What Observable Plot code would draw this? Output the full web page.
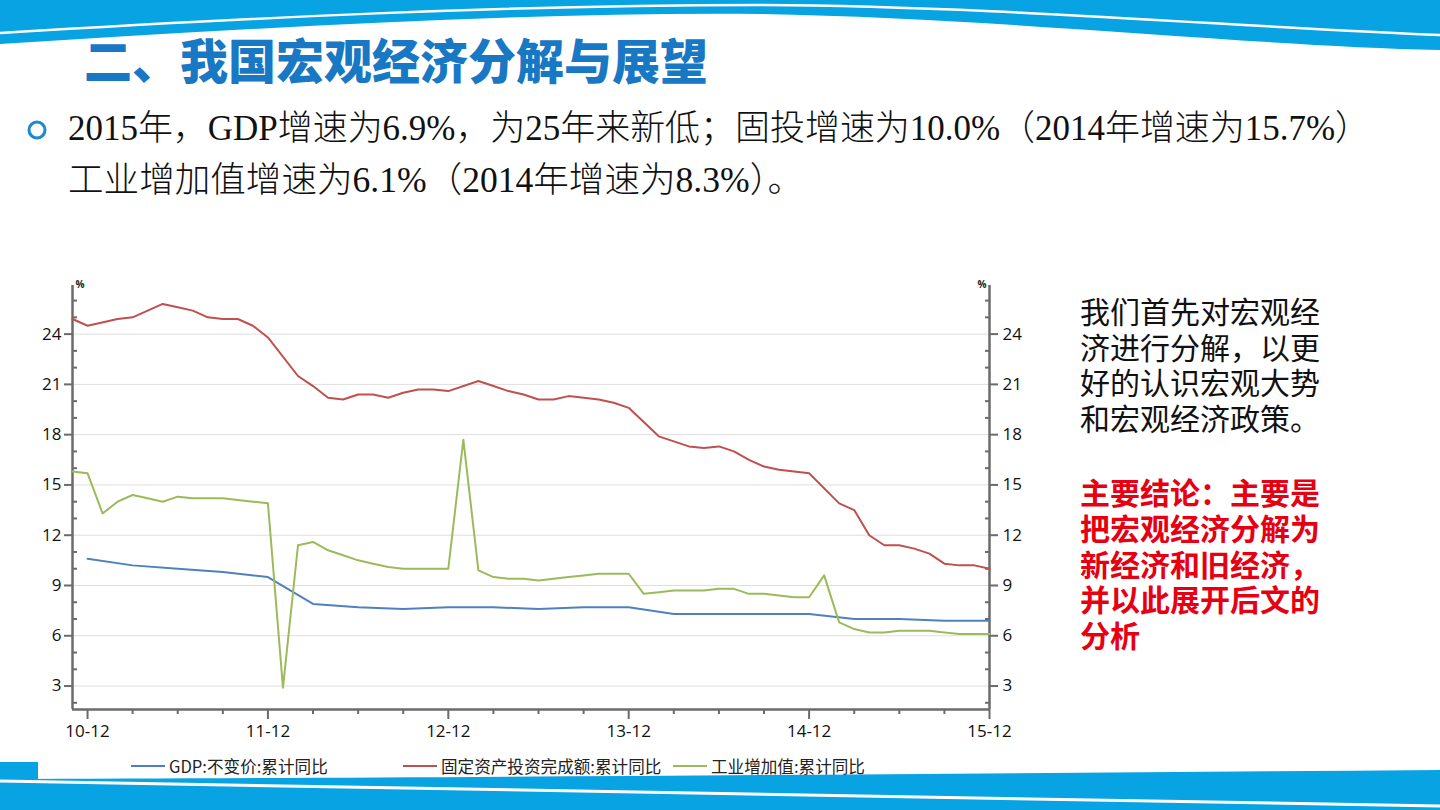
<!DOCTYPE html>
<html><head><meta charset="utf-8">
<script src="https://cdn.jsdelivr.net/npm/d3@7"></script>
<script src="https://cdn.jsdelivr.net/npm/@observablehq/plot@0.6"></script>
<style>
html,body{margin:0;padding:0;background:#fff;}
#slide{position:relative;width:1440px;height:810px;overflow:hidden;background:#fff;font-family:"Noto Sans CJK SC",sans-serif;}
.abs{position:absolute;}
#title{left:84px;top:26px;font-size:48px;font-weight:900;color:#1878C4;line-height:64px;white-space:nowrap;}
#note{left:1080px;top:293px;width:250px;font-size:30px;line-height:35.6px;color:#111;}
#concl{left:1080px;top:474px;width:250px;font-size:30px;line-height:35.8px;color:#E60012;font-weight:700;}
#chart{left:20px;top:270px;}
.leg{position:absolute;top:756px;height:20px;display:flex;align-items:center;font-size:16.6px;color:#222;white-space:nowrap;font-family:"Noto Sans CJK SC",sans-serif;}
.sw{display:inline-block;width:34px;height:2px;margin-right:4px;}
</style></head>
<body><div id="slide">
<svg class="abs" style="left:0;top:0" width="1440" height="100">
  <path d="M0,0 H1440 V50 C1250,46 1000,18 760,14 C520,12 260,28 0,44 Z" fill="#08A3E2"/>
  <path d="M0,33 C250,18 500,5 760,5 C1000,6 1250,28 1440,35" fill="none" stroke="#fff" stroke-width="2.5"/>
</svg>
<div id="title" class="abs">二、我国宏观经济分解与展望</div>
<svg class="abs" style="left:0;top:95px" width="1440" height="120">
  <circle cx="37" cy="35" r="8" fill="#fff" stroke="#1E88D0" stroke-width="3"/>
  <text x="68" y="45" textLength="1302" lengthAdjust="spacingAndGlyphs" font-size="35" font-family="'Liberation Serif','Noto Sans CJK SC',serif" font-weight="300" fill="#111">2015年，GDP增速为6.9%，为25年来新低；固投增速为10.0%（2014年增速为15.7%）</text>
  <text x="68" y="97" textLength="735" lengthAdjust="spacingAndGlyphs" font-size="35" font-family="'Liberation Serif','Noto Sans CJK SC',serif" font-weight="300" fill="#111">工业增加值增速为6.1%（2014年增速为8.3%）。</text>
</svg>
<div id="chart" class="abs"></div>
<div id="note" class="abs">我们首先对宏观经济进行分解，以更好的认识宏观大势和宏观经济政策。</div>
<div id="concl" class="abs">主要结论：主要是把宏观经济分解为新经济和旧经济，并以此展开后文的分析</div>
<div id="legend"></div>
<svg class="abs" style="left:0;top:750px" width="1440" height="60">
  <rect x="0" y="12" width="38" height="20" fill="#08A3E2"/>
  <path d="M0,29 C400,28 900,24 1440,20 V60 H0 Z" fill="#08A3E2"/>
  <path d="M0,31 C400,36 900,46 1440,56" fill="none" stroke="#fff" stroke-width="3"/>
</svg>
</div>
<script>
// ---- data ----
const seriesNames = ["GDP:不变价:累计同比", "固定资产投资完成额:累计同比", "工业增加值:累计同比"];
const seriesColors = ["#4F81BD", "#C0504D", "#9BBB59"];

// monthly, from 2010-11 to 2015-12 (null = no January release)
const faiValues = [
  24.9, 24.5,
  null, 24.9, 25.0, 25.4, 25.8, 25.6, 25.4, 25.0, 24.9, 24.9, 24.5, 23.8,
  null, 21.5, 20.9, 20.2, 20.1, 20.4, 20.4, 20.2, 20.5, 20.7, 20.7, 20.6,
  null, 21.2, 20.9, 20.6, 20.4, 20.1, 20.1, 20.3, 20.2, 20.1, 19.9, 19.6,
  null, 17.9, 17.6, 17.3, 17.2, 17.3, 17.0, 16.5, 16.1, 15.9, 15.8, 15.7,
  null, 13.9, 13.5, 12.0, 11.4, 11.4, 11.2, 10.9, 10.3, 10.2, 10.2, 10.0
];
const iavValues = [
  15.8, 15.7,
  13.3, 14.0, 14.4, 14.2, 14.0, 14.3, 14.2, 14.2, 14.2, 14.1, 14.0, 13.9,
  2.9, 11.4, 11.6, 11.1, 10.8, 10.5, 10.3, 10.1, 10.0, 10.0, 10.0, 10.0,
  17.7, 9.9, 9.5, 9.4, 9.4, 9.3, 9.4, 9.5, 9.6, 9.7, 9.7, 9.7,
  8.5, 8.6, 8.7, 8.7, 8.7, 8.8, 8.8, 8.5, 8.5, 8.4, 8.3, 8.3,
  9.6, 6.8, 6.4, 6.2, 6.2, 6.3, 6.3, 6.3, 6.2, 6.1, 6.1, 6.1
];
// quarterly GDP
const gdpPeriods = ["2010-12",
  "2011-03","2011-06","2011-09","2011-12",
  "2012-03","2012-06","2012-09","2012-12",
  "2013-03","2013-06","2013-09","2013-12",
  "2014-03","2014-06","2014-09","2014-12",
  "2015-03","2015-06","2015-09","2015-12"];
const gdpValues = [10.6,
  10.2, 10.0, 9.8, 9.5,
  7.9, 7.7, 7.6, 7.7,
  7.7, 7.6, 7.7, 7.7,
  7.3, 7.3, 7.3, 7.3,
  7.0, 7.0, 6.9, 6.9];

const xTickPeriods = ["2010-12","2011-12","2012-12","2013-12","2014-12","2015-12"];
const xTickLabels = ["10-12","11-12","12-12","13-12","14-12","15-12"];
const yMajor = [3, 6, 9, 12, 15, 18, 21, 24];
const yMinor = [2, 4, 5, 7, 8, 10, 11, 13, 14, 16, 17, 19, 20, 22, 23, 25, 26];
const yDomain = [1.6, 26.9];

// ---- build ----
const startY = 2010, startM = 11;
const idxOf = s => { const [y, m] = s.split("-").map(Number); return (y - startY) * 12 + (m - startM); };
const monthIdx = d3.range(faiValues.length);
const xDomain = [0, faiValues.length - 1];

const fai = monthIdx.map(i => ({idx: i, value: faiValues[i]})).filter(d => d.value != null);
const iav = monthIdx.map(i => ({idx: i, value: iavValues[i]}));
const gdp = gdpPeriods.map((p, i) => ({idx: idxOf(p), value: gdpValues[i]}));

const xMajor = xTickPeriods.map(idxOf);
const labelMap = new Map(xMajor.map((v, i) => [v, xTickLabels[i]]));
const xMinor = d3.range(xMajor[0], xDomain[1] + 1, 3).filter(v => !labelMap.has(v));

const axisColor = "#6b6b6b";
const chart = Plot.plot({
  width: 1030, height: 475,
  marginLeft: 52, marginRight: 61, marginTop: 15, marginBottom: 36,
  style: {fontFamily: '"Open Sans","Noto Sans",sans-serif', fontSize: "17px", color: "#111", background: "transparent", overflow: "visible"},
  x: {type: "linear", domain: xDomain},
  y: {domain: yDomain},
  marks: [
    Plot.gridY(yMajor, {stroke: "#dedede", strokeOpacity: 1, strokeWidth: 1}),
    Plot.axisX(xMajor, {anchor: "bottom", tickSize: 10, tickPadding: 5, tickFormat: d => labelMap.get(d), stroke: axisColor, strokeWidth: 2, label: null}),
    Plot.axisX(xMinor, {anchor: "bottom", tickSize: 5, tickFormat: () => "", stroke: axisColor, strokeWidth: 2, label: null}),
    Plot.axisY(yMajor, {anchor: "left", tickSize: 8, tickPadding: 3, stroke: axisColor, strokeWidth: 2, label: null}),
    Plot.axisY(yMinor, {anchor: "left", tickSize: 5, dx: 5, tickFormat: () => "", stroke: axisColor, strokeWidth: 2, label: null}),
    Plot.axisY(yMajor, {anchor: "right", tickSize: 8, tickPadding: 5, stroke: axisColor, strokeWidth: 2, label: null}),
    Plot.axisY(yMinor, {anchor: "right", tickSize: 5, dx: -5, tickFormat: () => "", stroke: axisColor, strokeWidth: 2, label: null}),
    Plot.ruleX([xDomain[0], xDomain[1]], {y1: yDomain[0], y2: yDomain[1], stroke: axisColor, strokeWidth: 2.5}),
    Plot.ruleY([yDomain[0]], {x1: xDomain[0], x2: xDomain[1], stroke: axisColor, strokeWidth: 2.5}),
    Plot.line(gdp, {x: "idx", y: "value", stroke: seriesColors[0], strokeWidth: 2}),
    Plot.line(fai, {x: "idx", y: "value", stroke: seriesColors[1], strokeWidth: 2}),
    Plot.line(iav, {x: "idx", y: "value", stroke: seriesColors[2], strokeWidth: 2}),
    Plot.text(["%"], {frameAnchor: "top-left", dx: 3, dy: -5, fontSize: 10, fontWeight: "bold", fill: "#222"}),
    Plot.text(["%"], {frameAnchor: "top-right", dx: -3, dy: -5, fontSize: 10, fontWeight: "bold", fill: "#222"})
  ]
});
document.getElementById("chart").appendChild(chart);

// legend
const legLefts = [131, 403, 673];
const leg = document.getElementById("legend");
seriesNames.forEach((name, i) => {
  const div = document.createElement("div");
  div.className = "leg";
  div.style.left = legLefts[i] + "px";
  div.innerHTML = `<span class="sw" style="background:${seriesColors[i]}"></span><span>${name}</span>`;
  leg.appendChild(div);
});
</script>
</body></html>
